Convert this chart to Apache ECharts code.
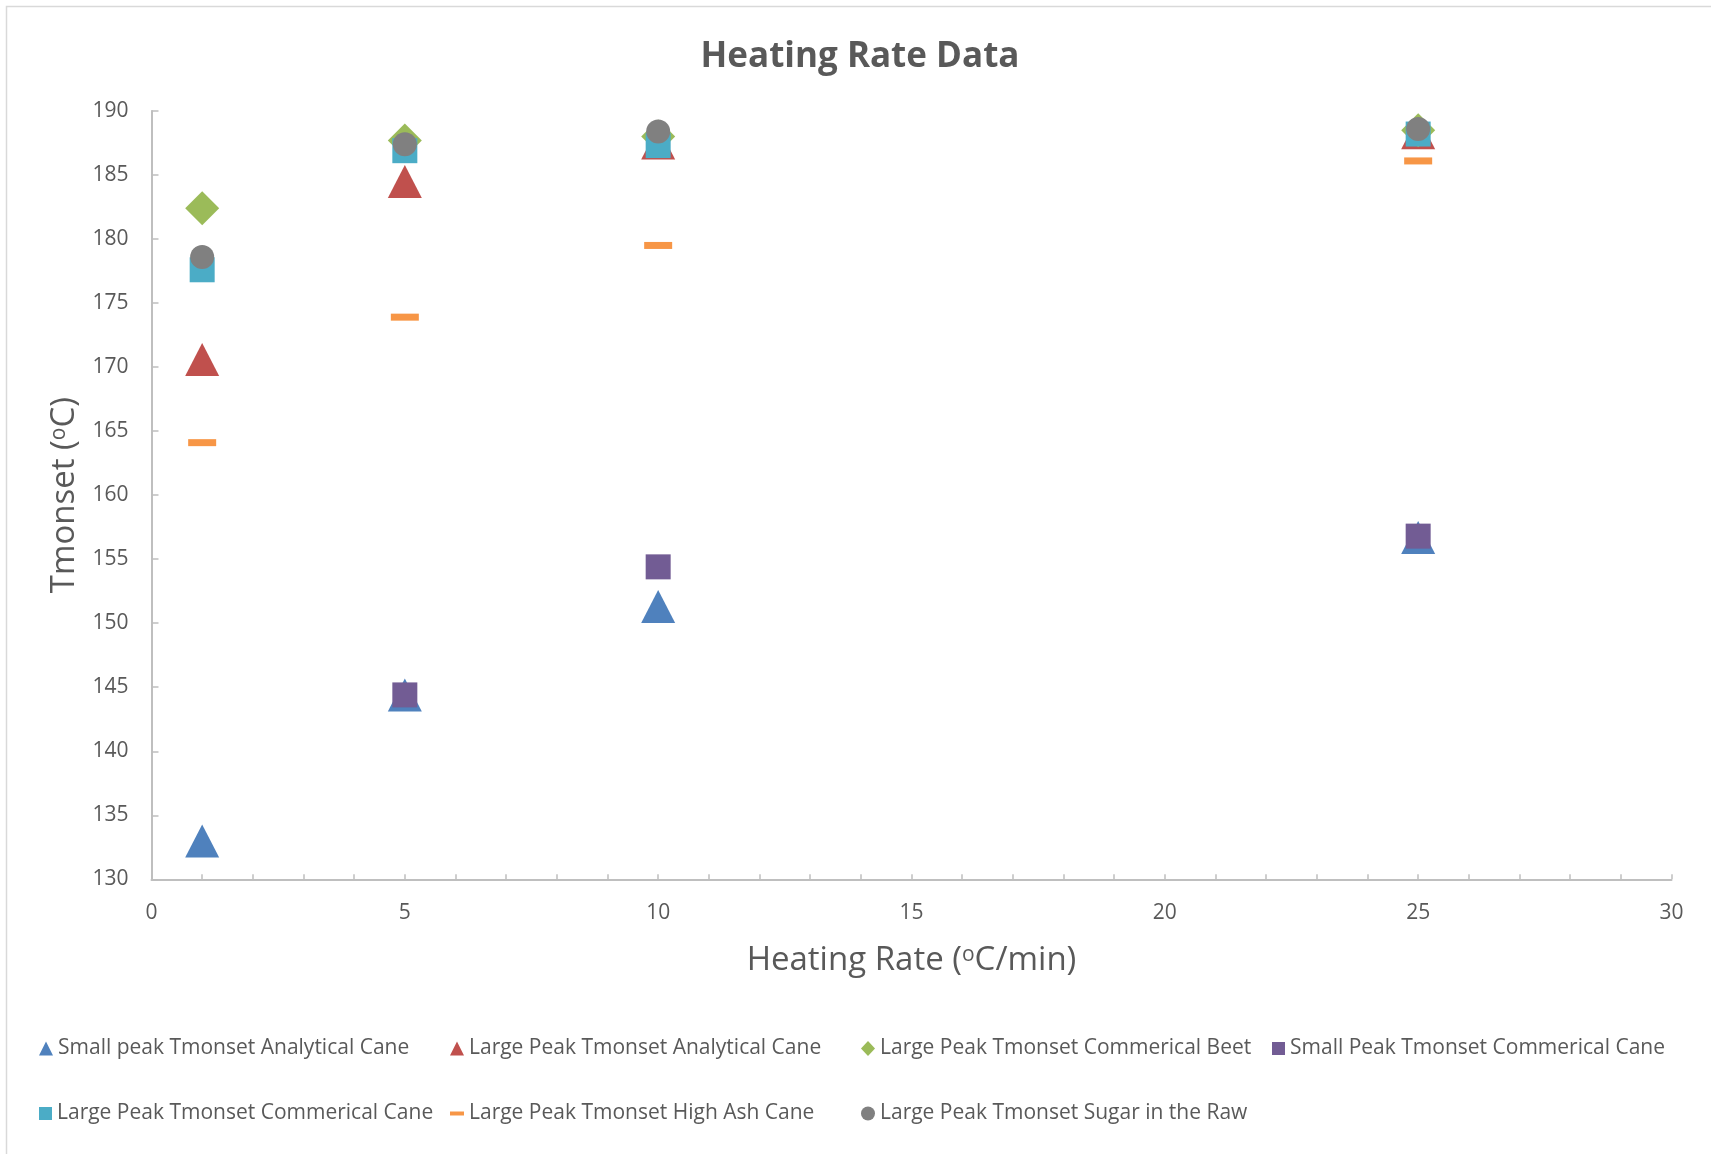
<!DOCTYPE html>
<html>
<head>
<meta charset="utf-8">
<title>Heating Rate Data</title>
<script src="https://cdn.jsdelivr.net/npm/echarts@6/dist/echarts.min.js"></script>
<style>
  html, body { margin: 0; padding: 0; background: #ffffff; }
  #chart { width: 1711px; height: 1154px; }
</style>
</head>
<body>
<div id="chart"></div>
<script>
// Heating rates (°C/min) at which each sample was run
const heatingRates = [1, 5, 10, 25];

// Onset temperatures (°C) per sample; null where no peak was recorded
const smallPeakAnalyticalCane = [133.0, 144.4, 151.3, 156.7];
const largePeakAnalyticalCane = [170.6, 184.5, 187.5, 188.3];
const largePeakCommericalBeet = [182.4, 187.7, 188.0, 188.5];
const smallPeakCommericalCane = [null, 144.4, 154.4, 156.8];
const largePeakCommericalCane = [177.6, 186.9, 187.3, 188.2];
const largePeakHighAshCane = [164.1, 173.9, 179.5, 186.1];
const largePeakSugarInTheRaw = [178.6, 187.4, 188.4, 188.6];

const seriesNames = [
  'Small peak Tmonset Analytical Cane',
  'Large Peak Tmonset Analytical Cane',
  'Large Peak Tmonset Commerical Beet',
  'Small Peak Tmonset Commerical Cane',
  'Large Peak Tmonset Commerical Cane',
  'Large Peak Tmonset High Ash Cane',
  'Large Peak Tmonset Sugar in the Raw'
];
const seriesValues = [
  smallPeakAnalyticalCane, largePeakAnalyticalCane, largePeakCommericalBeet,
  smallPeakCommericalCane, largePeakCommericalCane, largePeakHighAshCane,
  largePeakSugarInTheRaw
];

// Axis ranges
const xMin = 0, xMax = 30, xTickStep = 1, xLabelStep = 5;
const yMin = 130, yMax = 190, yStep = 5;

// Marker look for each series
const markers = [
  { symbol: 'triangle', size: [34, 33], color: '#4F81BD', legendIcon: 'triangle', lw: 14, lh: 14 },
  { symbol: 'triangle', size: [34, 33], color: '#C0504D', legendIcon: 'triangle', lw: 14, lh: 14 },
  { symbol: 'diamond',  size: [34, 34], color: '#9BBB59', legendIcon: 'diamond',  lw: 14, lh: 15 },
  { symbol: 'rect',     size: [25, 25], color: '#725C94', legendIcon: 'rect',     lw: 13, lh: 13 },
  { symbol: 'rect',     size: [25, 25], color: '#4BACC6', legendIcon: 'rect',     lw: 13, lh: 13 },
  { symbol: 'rect',     size: [28, 7],  color: '#F79646', legendIcon: 'rect',     lw: 14, lh: 4 },
  { symbol: 'circle',   size: 24,       color: '#808080', legendIcon: 'circle',   lw: 14, lh: 14 }
];

// Legend grid: column and row of each entry
const legendSlots = [[0, 0], [1, 0], [2, 0], [3, 0], [0, 1], [1, 1], [2, 1]];
const legendColX = [39, 450, 861, 1272];
const legendRowY = [1038, 1103];

const textColor = '#595959';
const axisColor = '#BFBFBF';
const fontFamily = 'Open Sans';

const series = seriesNames.map((name, i) => ({
  name: name,
  type: 'scatter',
  symbol: markers[i].symbol,
  symbolSize: markers[i].size,
  itemStyle: { color: markers[i].color, opacity: 1 },
  emphasis: { disabled: true },
  z: 2 + i,
  data: heatingRates
    .map((x, k) => [x, seriesValues[i][k]])
    .filter(p => p[1] !== null)
}));

const legends = seriesNames.map((name, i) => ({
  data: [{ name: name, icon: markers[i].legendIcon }],
  left: legendColX[legendSlots[i][0]],
  top: legendRowY[legendSlots[i][1]],
  padding: 0,
  itemWidth: markers[i].lw,
  itemHeight: markers[i].lh,
  itemGap: 0,
  selectedMode: false,
  textStyle: { fontFamily: fontFamily, fontSize: 21, lineHeight: 21, color: textColor }
}));

const supStyle = {
  sup: { fontFamily: fontFamily, fontSize: 21, color: textColor, verticalAlign: 'top', lineHeight: 33 }
};

const option = {
  animation: false,
  backgroundColor: '#ffffff',
  textStyle: { fontFamily: fontFamily },
  title: {
    text: 'Heating Rate Data',
    left: 855,
    textAlign: 'center',
    top: 35,
    textStyle: { fontFamily: fontFamily, fontSize: 35, fontWeight: 'bold', color: textColor }
  },
  graphic: [{
    type: 'rect',
    shape: { x: 6.5, y: 6.5, width: 1760, height: 1200 },
    style: { fill: null, stroke: '#D9D9D9', lineWidth: 1.5 },
    silent: true
  }],
  legend: legends,
  grid: { left: 151.5, right: 39.5, top: 111, bottom: 274.7, containLabel: false },
  xAxis: {
    type: 'value',
    min: xMin, max: xMax, interval: xTickStep,
    name: 'Heating Rate ({sup|o}C/min)',
    nameLocation: 'middle',
    nameGap: 65,
    nameTextStyle: { fontFamily: fontFamily, fontSize: 33, color: textColor, lineHeight: 33, rich: supStyle },
    axisLine: { show: true, lineStyle: { color: axisColor, width: 2 } },
    axisTick: { show: true, inside: true, length: 5, lineStyle: { color: axisColor, width: 1.5 } },
    axisLabel: {
      margin: 23, fontSize: 21, color: textColor, fontFamily: fontFamily,
      formatter: v => (v % xLabelStep === 0 ? String(v) : '')
    },
    splitLine: { show: false }
  },
  yAxis: {
    type: 'value',
    min: yMin, max: yMax, interval: yStep,
    name: 'Tmonset ({sup|o}C)',
    nameLocation: 'middle',
    nameGap: 70,
    nameTextStyle: { fontFamily: fontFamily, fontSize: 33, color: textColor, lineHeight: 33, rich: supStyle },
    axisLine: { show: true, lineStyle: { color: axisColor, width: 2 } },
    axisTick: { show: true, inside: true, length: 7, lineStyle: { color: axisColor, width: 1.5 } },
    axisLabel: { margin: 23, fontSize: 21, color: textColor, fontFamily: fontFamily, padding: [4, 0, 0, 0] },
    splitLine: { show: false }
  },
  series: series
};

const chart = echarts.init(document.getElementById('chart'), null, { renderer: 'canvas' });
chart.setOption(option);
</script>
</body>
</html>
